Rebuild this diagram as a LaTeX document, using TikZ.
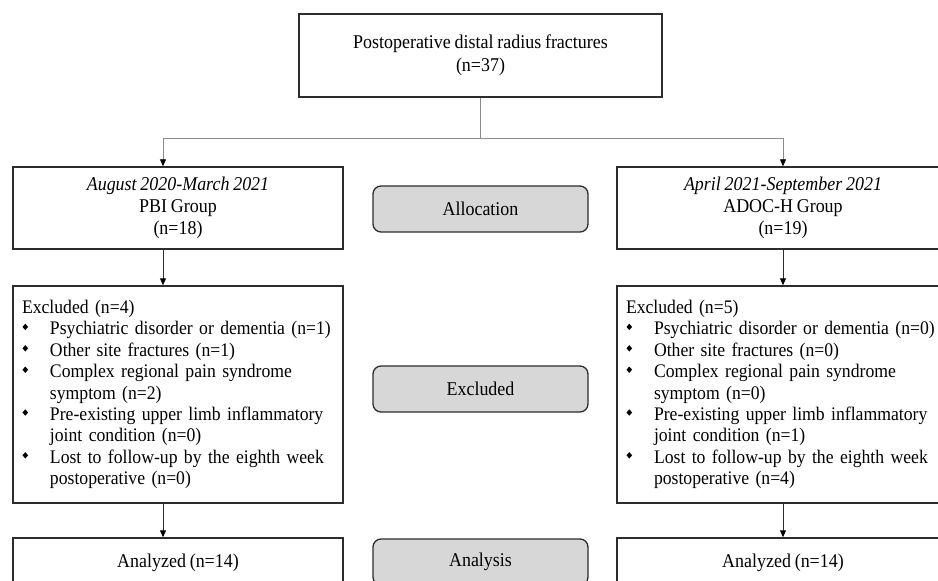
\documentclass[tikz,border=0pt]{standalone}
\usepackage{fontspec}
\setmainfont[FakeStretch=0.92,WordSpace=0.85]{Liberation Serif}
\usetikzlibrary{arrows.meta}
\definecolor{stagefill}{RGB}{215,215,215}
\definecolor{edge}{RGB}{45,45,45}
\definecolor{thin}{RGB}{140,140,140}
\newcommand\bitem[1]{\makebox[28pt][l]{\hspace{0.5pt}\raisebox{4.8pt}{\tikz[x=1pt,y=1pt]\fill[black] (0,0)--(2.8,3.2)--(5.6,0)--(2.8,-3.2)--cycle;}}\mbox{#1}}
\newcommand\ind[1]{\hspace*{28pt}\mbox{#1}}
\newcommand\bigtxt{\fontsize{19.5}{23}\selectfont}
\begin{document}
\begin{tikzpicture}[x=1pt,y=-1pt,
  box/.style={draw=edge, line width=1.4pt, inner sep=0pt, font=\bigtxt},
  stage/.style={draw=edge, line width=1.3pt, fill=stagefill, rounded corners=8pt,
    minimum width=215pt, minimum height=46pt, inner sep=0pt, font=\bigtxt},
  conn/.style={draw=thin, line width=0.8pt},
  arr/.style={draw=edge, line width=0.9pt, -{Triangle[length=7pt,width=6pt,color=black]}}]
\useasboundingbox (0,0) rectangle (938,581);
\clip (0,0) rectangle (938,581);
\fill[white] (0,0) rectangle (938,581);

% top
\node[box, minimum width=363pt, minimum height=83pt, align=center] (top) at (480.5,55.5)
  {Postoperative distal radius fractures\\(n=37)};

% groups
\node[box, minimum width=330pt, minimum height=82pt, align=center,
  font=\fontsize{19.5}{22}\selectfont] (gL) at (178,208)
  {\textit{August 2020-March 2021}\\PBI Group\\(n=18)};
\node[box, minimum width=332pt, minimum height=82pt, align=center,
  font=\fontsize{19.5}{22}\selectfont] (gR) at (783,208)
  {\textit{April 2021-September 2021}\\ADOC-H Group\\(n=19)};
\node[stage] (alloc) at (480.5,209) {Allocation};

% excluded
\node[box, minimum width=330pt, minimum height=217pt, text width=312pt, align=left,
  font=\fontsize{19.2}{21.4}\selectfont] (eL) at (178,394.5)
  {\mbox{Excluded (n=4)}\\
   \bitem{Psychiatric disorder or dementia (n=1)}\\
   \bitem{Other site fractures (n=1)}\\
   \bitem{Complex regional pain syndrome}\\
   \ind{symptom (n=2)}\\
   \bitem{Pre-existing upper limb inflammatory}\\
   \ind{joint condition (n=0)}\\
   \bitem{Lost to follow-up by the eighth week}\\
   \ind{postoperative (n=0)}};
\node[box, minimum width=332pt, minimum height=217pt, text width=314pt, align=left,
  font=\fontsize{19.2}{21.4}\selectfont] (eR) at (783,394.5)
  {\mbox{Excluded (n=5)}\\
   \bitem{Psychiatric disorder or dementia (n=0)}\\
   \bitem{Other site fractures (n=0)}\\
   \bitem{Complex regional pain syndrome}\\
   \ind{symptom (n=0)}\\
   \bitem{Pre-existing upper limb inflammatory}\\
   \ind{joint condition (n=1)}\\
   \bitem{Lost to follow-up by the eighth week}\\
   \ind{postoperative (n=4)}};
\node[stage] (excl) at (480.5,389) {Excluded};

% analysis
\node[box, minimum width=330pt, minimum height=50pt] (aL) at (178,563) {Analyzed (n=14)};
\node[box, minimum width=332pt, minimum height=50pt] (aR) at (783,563) {Analyzed (n=14)};
\node[stage] (anal) at (480.5,562) {Analysis};

% connectors
\coordinate (split) at (480.5,138);
\coordinate (sL) at (163,138);
\coordinate (sR) at (783,138);
\draw[conn] (top.south) -- (split);
\draw[conn] (sL) -- (sR);
\draw[conn, -{Triangle[length=7pt,width=6pt,color=black]}] (sL) -- (sL |- gL.north);
\draw[conn, -{Triangle[length=7pt,width=6pt,color=black]}] (sR) -- (sR |- gR.north);
\draw[arr] (gL.south -| sL) -- (eL.north -| sL);
\draw[arr] (gR.south -| sR) -- (eR.north -| sR);
\draw[arr] (eL.south -| sL) -- (aL.north -| sL);
\draw[arr] (eR.south -| sR) -- (aR.north -| sR);
\end{tikzpicture}
\end{document}
